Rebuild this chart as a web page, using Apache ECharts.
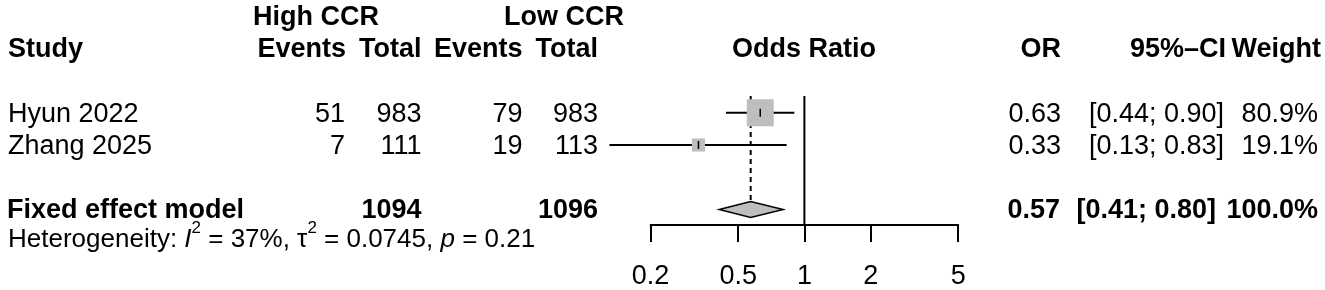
<!DOCTYPE html>
<html>
<head>
<meta charset="utf-8">
<script src="https://cdn.jsdelivr.net/npm/echarts@6/dist/echarts.min.js"></script>
<style>
  html, body { margin: 0; padding: 0; background: #fff; }
  #main { width: 1325px; height: 290px; }
</style>
</head>
<body>
<div id="main"></div>
<script>
// study level data
const studies = ['Hyun 2022', 'Zhang 2025']
const eventsHigh = [51, 7]
const totalHigh = [983, 111]
const eventsLow = [79, 19]
const totalLow = [983, 113]
const oddsRatio = [0.63, 0.33]
const ciLow = [0.44, 0.13]
const ciHigh = [0.90, 0.83]
const weight = [80.9, 19.1]

// pooled (fixed effect) result
const pooledTotalHigh = 1094
const pooledTotalLow = 1096
const pooledOR = 0.57
const pooledLow = 0.41
const pooledHigh = 0.80
const pooledWeight = 100.0

// heterogeneity
const hetI2 = 37
const hetTau2 = 0.0745
const hetP = 0.21

const axisTicks = [0.2, 0.5, 1, 2, 5]

const font = 'Liberation Sans, Arial, Helvetica, sans-serif'
const boxGray = '#bebebe'
const pooledRow = 3
const hetRow = 3.88
const textSize = 27

const chart = echarts.init(document.getElementById('main'))

function tableItem(params, api) {
  const yOf = r => api.coord([1, r])[1] + 1.5
  const children = []
  const add = (x, r, text, align, bold) => {
    children.push({
      type: 'text',
      x: x,
      y: yOf(r),
      style: {
        text: String(text),
        align: align,
        verticalAlign: 'middle',
        fontFamily: font,
        fontSize: textSize,
        fontWeight: bold ? 'bold' : 'normal',
        fill: '#000'
      }
    })
  }
  // headers
  add(253, -3, 'High CCR', 'left', true)
  add(504, -3, 'Low CCR', 'left', true)
  add(8, -2, 'Study', 'left', true)
  add(346, -2, 'Events', 'right', true)
  add(421.5, -2, 'Total', 'right', true)
  add(522.5, -2, 'Events', 'right', true)
  add(598, -2, 'Total', 'right', true)
  add(804, -2, 'Odds Ratio', 'center', true)
  add(1061, -2, 'OR', 'right', true)
  add(1226, -2, '95%\u2013CI', 'right', true)
  add(1321, -2, 'Weight', 'right', true)
  // studies
  studies.forEach((s, i) => {
    add(8, i, s, 'left', false)
    add(345, i, eventsHigh[i], 'right', false)
    add(421.5, i, totalHigh[i], 'right', false)
    add(522.5, i, eventsLow[i], 'right', false)
    add(598, i, totalLow[i], 'right', false)
    add(1061, i, oddsRatio[i].toFixed(2), 'right', false)
    add(1224, i, '[' + ciLow[i].toFixed(2) + '; ' + ciHigh[i].toFixed(2) + ']', 'right', false)
    add(1318, i, weight[i].toFixed(1) + '%', 'right', false)
  })
  // pooled
  add(7, pooledRow, 'Fixed effect model', 'left', true)
  add(421.5, pooledRow, pooledTotalHigh, 'right', true)
  add(598, pooledRow, pooledTotalLow, 'right', true)
  add(1060, pooledRow, pooledOR.toFixed(2), 'right', true)
  add(1216, pooledRow, '[' + pooledLow.toFixed(2) + '; ' + pooledHigh.toFixed(2) + ']', 'right', true)
  add(1318, pooledRow, pooledWeight.toFixed(1) + '%', 'right', true)
  // heterogeneity line
  const base = { fontFamily: font, fontSize: 26, lineHeight: 40, fill: '#000' }
  children.push({
    type: 'text',
    x: 8,
    y: yOf(hetRow),
    style: Object.assign({}, base, {
      text: 'Heterogeneity: {i|I}{s|2} = ' + hetI2 + '%, \u03c4{s|2} = ' + hetTau2 + ', {i|p} = ' + hetP,
      align: 'left',
      verticalAlign: 'middle',
      rich: {
        i: Object.assign({}, base, { fontStyle: 'italic' }),
        s: { fontFamily: font, fontSize: 17, lineHeight: 12, verticalAlign: 'top', fill: '#000' }
      }
    })
  })
  return { type: 'group', children: children }
}

function refLineItem(params, api) {
  const x = api.coord([api.value(0), 0])[0]
  const top = params.coordSys.y
  const bottom = params.coordSys.y + params.coordSys.height
  return {
    type: 'line',
    shape: { x1: x, y1: top, x2: x, y2: bottom },
    style: { stroke: '#000', lineWidth: 2 }
  }
}

function pooledLineItem(params, api) {
  const p = api.coord([api.value(0), pooledRow])
  return {
    type: 'line',
    shape: { x1: p[0], y1: params.coordSys.y, x2: p[0], y2: p[1] - 8 },
    style: { stroke: '#000', lineWidth: 2, lineDash: [5, 4] }
  }
}

function studyItem(params, api) {
  const row = api.value(4)
  const c = api.coord([api.value(0), row])
  const l = api.coord([api.value(1), row])
  const h = api.coord([api.value(2), row])
  const side = 3 * Math.sqrt(api.value(3))
  return {
    type: 'group',
    children: [
      { type: 'line', shape: { x1: l[0], y1: l[1], x2: h[0], y2: h[1] }, style: { stroke: '#000', lineWidth: 2 } },
      { type: 'rect', shape: { x: c[0] - side / 2, y: c[1] - side / 2, width: side, height: side }, style: { fill: boxGray } },
      { type: 'line', shape: { x1: c[0], y1: c[1] - 4, x2: c[0], y2: c[1] + 4 }, style: { stroke: '#000', lineWidth: 1.5 } }
    ]
  }
}

function diamondItem(params, api) {
  const c = api.coord([api.value(0), pooledRow])
  const l = api.coord([api.value(1), pooledRow])
  const h = api.coord([api.value(2), pooledRow])
  return {
    type: 'polygon',
    shape: { points: [[l[0], c[1]], [c[0], c[1] - 8], [h[0], c[1]], [c[0], c[1] + 8]] },
    style: { fill: boxGray, stroke: '#000', lineWidth: 1.5 }
  }
}

const option = {
  animation: false,
  backgroundColor: '#fff',
  grid: {
    left: 650.6,
    right: 366.8,
    top: 96,
    bottom: 64
  },
  xAxis: {
    type: 'log',
    logBase: 10,
    min: 0.2,
    max: 5,
    axisLine: { show: true, onZero: false, lineStyle: { color: '#000', width: 2 } },
    axisTick: { show: true, customValues: axisTicks, length: 17, lineStyle: { color: '#000', width: 2 } },
    axisLabel: {
      customValues: axisTicks,
      margin: 38,
      color: '#000',
      fontFamily: font,
      fontSize: textSize,
      formatter: v => String(v)
    },
    splitLine: { show: false }
  },
  yAxis: {
    type: 'value',
    inverse: true,
    min: -0.52,
    max: 3.48,
    show: false
  },
  series: [
    { type: 'custom', renderItem: refLineItem, data: [[1, 0]], silent: true },
    { type: 'custom', renderItem: pooledLineItem, data: [[pooledOR, pooledRow]], silent: true },
    {
      type: 'custom',
      renderItem: studyItem,
      data: studies.map((s, i) => [oddsRatio[i], ciLow[i], ciHigh[i], weight[i], i]),
      silent: true
    },
    { type: 'custom', renderItem: diamondItem, data: [[pooledOR, pooledLow, pooledHigh]], silent: true },
    { type: 'custom', renderItem: tableItem, data: [[1, 0]], silent: true }
  ]
}

chart.setOption(option)
</script>
</body>
</html>
